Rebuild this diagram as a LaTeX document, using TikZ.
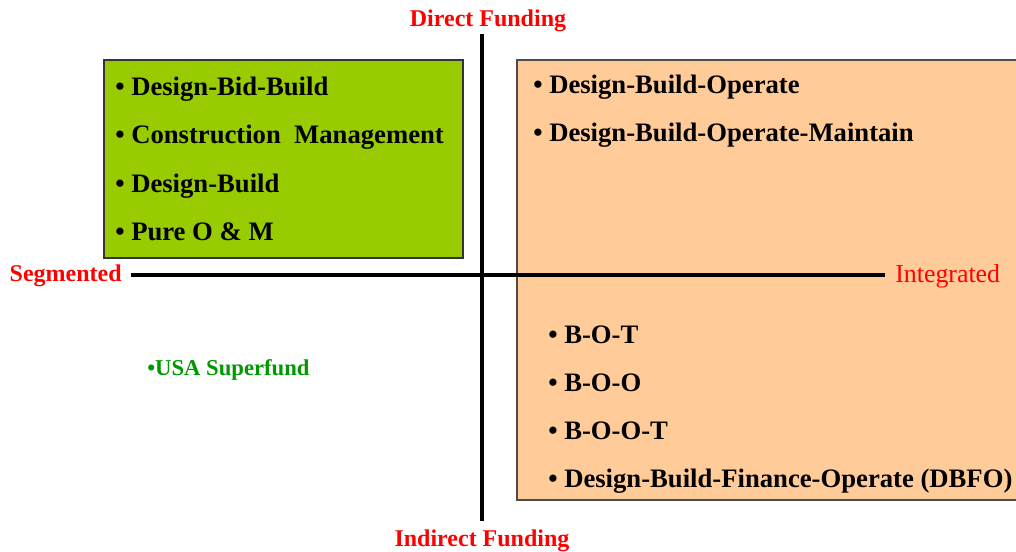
\documentclass[tikz,border=0pt]{standalone}
\usepackage{fontspec}
\setmainfont{Liberation Serif}
\begin{document}
\begin{tikzpicture}[x=0.75pt,y=-0.75pt,
  box/.style={draw=black!80,line width=1.4pt},
  item/.style={anchor=base west,inner sep=0pt,font=\bfseries\fontsize{20}{22}\selectfont},
  axislabel/.style={anchor=base,text=red,inner sep=0pt,font=\bfseries\fontsize{18}{20}\selectfont},
  axis/.style={line width=2.4pt,black}]
\useasboundingbox (0,0) rectangle (1016,551);
\definecolor{quadgreen}{RGB}{153,204,0}
\definecolor{quadpeach}{RGB}{255,204,153}
\definecolor{labelgreen}{RGB}{0,153,0}

% quadrant panels
\path[box,fill=quadgreen] (104,60) rectangle (463,258);
\path[box,fill=quadpeach,draw=black!70] (517,60) rectangle (1020,500);

% axes
\coordinate (ytop) at (482,34);
\coordinate (ybot) at (482,521);
\coordinate (xleft) at (131,275);
\coordinate (xright) at (885,275);
\draw[axis] (ytop) -- (ybot);
\draw[axis] (xleft) -- (xright);

% axis labels
\node[axislabel] (direct) at (488,26) {Direct Funding};
\node[axislabel] (indirect) at (482,546) {Indirect Funding};
\node[axislabel,anchor=base east] (segmented) at (122,281) {Segmented};
\node[text=red,inner sep=0pt,anchor=base west,font=\fontsize{19.4}{21}\selectfont] (integrated) at (895,282) {Integrated};

% segmented, direct funding
\node[item] (dbb) at (115,95) {\textbullet\ Design-Bid-Build};
\node[item] (cm)  at (115,143) {\textbullet\ Construction\ \ Management};
\node[item] (db)  at (115,192) {\textbullet\ Design-Build};
\node[item] (om)  at (115,240) {\textbullet\ Pure O \& M};

% integrated, direct funding
\node[item] (dbo)  at (533,93) {\textbullet\ Design-Build-Operate};
\node[item] (dbom) at (533,141) {\textbullet\ Design-Build-Operate-Maintain};

% integrated, indirect funding
\node[item] (bot)  at (548,343) {\textbullet\ B-O-T};
\node[item] (boo)  at (548,391) {\textbullet\ B-O-O};
\node[item] (boot) at (548,439) {\textbullet\ B-O-O-T};
\node[item] (dbfo) at (548,487) {\textbullet\ Design-Build-Finance-Operate (DBFO)};

% segmented, indirect funding
\node[anchor=base west,inner sep=0pt,text=labelgreen,font=\bfseries\fontsize{17}{19}\selectfont] (superfund) at (147,375) {\textbullet USA Superfund};
\end{tikzpicture}
\end{document}
